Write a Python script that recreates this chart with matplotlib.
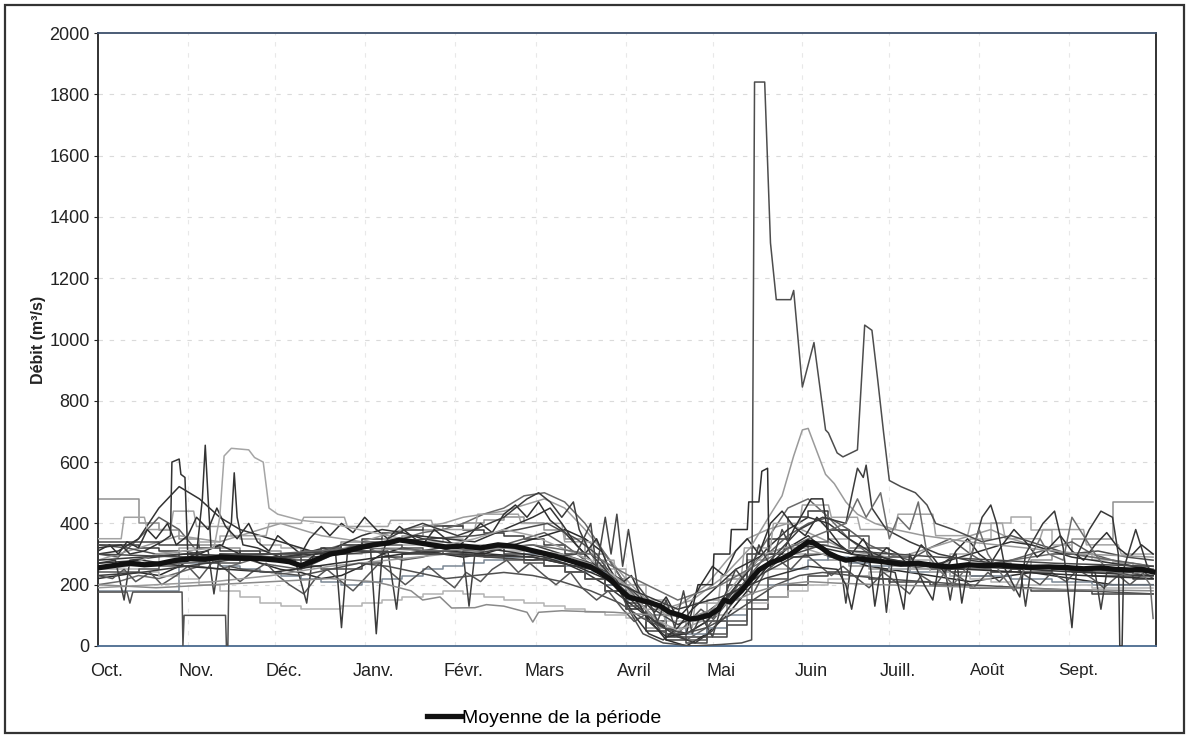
import matplotlib
matplotlib.use("Agg")
import matplotlib.pyplot as plt
from matplotlib.patches import Rectangle
import numpy as np

plt.rcParams['font.family'] = ['Liberation Sans', 'DejaVu Sans']

# ---------------- data ----------------
month_labels = ['Oct.', 'Nov.', 'Déc.', 'Janv.', 'Févr.', 'Mars', 'Avril', 'Mai', 'Juin', 'Juill.', 'Août', 'Sept.']
month_starts = [0, 31, 61, 92, 123, 151, 182, 212, 243, 273, 304, 335]
y_ticks = [0, 200, 400, 600, 800, 1000, 1200, 1400, 1600, 1800, 2000]

mean_days = [0,5,11,16,21,26,32,37,42,49,56,62,66,70,75,80,85,90,95,100,104,110,115,120,126,132,138,144,149,154,
             159,165,170,174,177,180,183,187,190,194,197,201,204,207,211,214,216,218,222,225,228,232,236,239,242,245,
             247,250,252,255,258,262,266,270,277,283,289,294,300,306,311,317,322,328,334,340,346,351,356,360,364]
mean_vals = [255,262,270,265,268,278,285,283,290,287,285,280,275,262,280,300,308,320,330,336,346,338,330,323,326,320,
             330,325,313,302,290,272,258,235,215,185,160,150,143,130,111,100,88,91,101,120,150,143,180,215,248,271,285,
             300,320,340,336,318,303,290,280,285,280,276,267,270,262,258,265,262,264,260,257,258,256,252,255,250,248,250,242]

# weekly readings (one value per week from 1 Oct)
w01 = [480,480,400,380,350,330,320,300,310,300,290,320,340,330,350,360,380,390,400,410,420,400,380,350,300,220,120,60,40,80,
       150,220,280,300,320,300,280,260,250,260,250,240,250,260,270,260,280,300,350,350,470,470,470]
w02 = [330,330,320,310,290,280,300,310,300,290,280,300,330,350,370,380,390,390,380,370,360,350,330,300,260,200,120,50,20,30,
       80,200,300,350,420,440,380,320,290,270,260,250,240,230,240,250,260,250,240,230,230,220,220]
w03 = [300,290,350,420,380,300,280,290,270,260,250,280,310,330,300,280,290,310,300,320,330,350,370,330,280,240,180,120,60,20,
       60,140,220,300,360,400,420,380,330,300,280,320,350,300,260,280,300,320,340,300,280,260,250]
w04 = [250,260,270,300,320,340,360,350,330,320,310,300,300,310,320,330,340,350,330,320,310,300,290,280,270,250,200,150,100,80,
       100,150,200,250,300,330,350,320,300,290,280,270,300,350,400,420,380,330,300,280,270,260,260]
w05 = [220,230,240,230,260,300,330,300,270,250,240,220,230,260,300,320,310,300,290,300,320,340,360,380,350,300,200,100,20,0,
       40,100,180,260,320,360,300,280,260,250,240,230,220,210,220,230,240,230,220,210,200,200,200]
w06 = [180,180,180,180,270,270,260,250,240,230,220,210,200,210,220,230,250,260,270,280,290,300,280,260,240,200,150,100,60,40,
       60,100,150,200,250,280,290,270,260,250,240,240,230,230,230,220,220,210,210,200,200,200,200]
w07 = [280,300,320,340,360,350,340,360,380,400,380,360,350,340,360,380,390,400,420,430,440,460,480,450,380,300,220,150,100,150,
       200,280,350,380,400,370,340,310,300,290,300,320,340,360,380,350,330,310,300,290,280,270,260]
w08 = [340,340,340,330,330,320,310,300,300,280,260,250,250,270,290,300,300,300,310,320,300,280,260,240,220,180,140,80,30,10,
       30,70,120,160,200,230,240,230,220,210,210,200,200,190,190,190,180,180,180,170,170,170,170]
w09 = [200,210,230,220,240,260,250,270,290,280,300,310,330,320,340,350,370,380,400,430,450,490,500,470,400,300,200,120,60,40,
       80,150,250,350,450,480,420,350,300,270,260,250,250,260,270,280,290,300,300,290,280,270,260]
w10 = [260,250,240,230,220,200,180,160,140,130,120,120,130,140,150,160,170,180,170,160,150,140,130,120,110,100,90,80,80,90,
       100,120,140,160,180,200,220,230,240,250,250,240,230,220,210,200,200,200,200,190,190,190,190]
w11 = [300,310,350,450,520,480,420,380,360,340,320,300,330,360,380,370,350,340,330,320,310,300,290,270,240,200,150,100,60,40,
       80,160,240,320,380,420,400,350,310,280,270,260,280,300,320,340,330,310,290,280,270,260,250]
w12 = [240,240,250,260,260,270,270,280,290,300,310,320,330,340,330,320,310,300,300,290,280,270,260,240,220,180,130,80,40,20,
       40,80,150,220,290,340,380,360,320,290,270,260,250,250,240,240,240,250,250,240,240,230,230]

# (day, value) readings for years with notable features
flood_year = [(0,330),(10,320),(20,300),(30,310),(40,290),(50,300),(60,280),(70,290),(80,310),(92,330),(100,340),(115,350),
              (130,360),(145,380),(155,400),(165,350),(172,300),(178,220),(183,120),(188,40),(195,10),(205,0),(215,5),
              (222,10),(225.5,20),(226.5,1840),(230,1840),(232,1315),(234,1130),(239,1130),(240,1160),(243,845),(247,990),
              (251,705),(252,695),(255,630),(257,617),(262,640),(264.5,1047),(267,1030),(269,868),(271,698),(273,540),
              (277,520),(282,500),(286,460),(289,400),(295,380),(305,340),(315,360),(325,330),(335,300),(345,310),
              (355,290),(364,280)]
peak_june = [(0,190),(20,200),(40,210),(60,230),(80,260),(100,280),(120,300),(140,320),(160,300),(175,250),(185,180),
             (195,120),(205,150),(215,220),(225,320),(232,430),(236,490),(240,620),(243,705),(245,710),(248,635),(251,560),
             (254,530),(258,470),(262,430),(268,400),(275,380),(285,360),(300,340),(320,320),(340,300),(364,290)]
may_steps = [(0,270),(15,280),(30,260),(45,250),(60,240),(75,260),(90,280),(105,300),(120,310),(135,300),(150,290),
             (165,260),(175,220),(182,170),(186,150),(190,80),(196,30),(203,40),(207,200),(212,200),(212.5,300),(218,300),
             (218.5,380),(224,380),(224.5,470),(228,470),(229,570),(231,580),(231.5,300),(236,300),(240,380),(246,480),
             (250,480),(252,350),(260,300),(270,280),(285,260),(300,250),(320,240),(340,230),(364,220)]
nov_peaks = [(0,320),(8,330),(11,300),(16,310),(22,340),(25,360),(25.5,600),(28,610),(28.6,560),(30,550),(31,290),
             (34,300),(36,480),(37,655),(38,480),(39,320),(43,330),(46,400),(47,565),(48,420),(50,330),(55,320),(60,300),
             (66,280),(70,260),(75,300),(80,310),(84,300),(90,330),(100,340),(110,360),(120,350),(130,340),(140,380),
             (150,420),(156,450),(160,400),(165,330),(172,260),(180,180),(185,100),(190,40),(195,20),(200,60),(205,120),
             (212,180),(220,250),(230,300),(240,330),(250,320),(260,300),(270,290),(280,270),(300,260),(320,250),
             (340,240),(364,230)]
dec_plateau = [(0,250),(10,260),(20,300),(30,310),(40,320),(42,420),(43.5,620),(46,645),(52,640),(54,615),(57,600),
               (59,450),(62,430),(70,410),(80,400),(90,380),(100,360),(110,340),(120,330),(130,350),(140,380),(150,360),
               (160,320),(170,280),(178,230),(185,160),(192,90),(200,50),(208,80),(215,150),(222,230),(230,300),
               (240,330),(250,300),(260,280),(275,270),(290,260),(305,270),(320,260),(340,250),(364,250)]
low_year = [(0,176),(10,176),(11,140),(12,176),(29,176),(29.3,0),(29.7,100),(44,100),(44.3,0),(44.8,0),(45.2,260),
            (50,250),(60,240),(70,230),(80,250),(90,270),(100,260),(110,240),(120,220),(130,230),(140,240),(150,230),
            (160,210),(170,180),(180,140),(188,90),(195,60),(202,40),(210,60),(218,100),(226,150),(234,200),(242,230),
            (250,240),(260,230),(270,220),(285,210),(300,200),(320,190),(340,180),(364,170)]
jan_dips = [(0,230),(15,240),(30,260),(45,280),(60,280),(70,300),(78,320),(82,300),(84,60),(86,300),(90,330),(94,320),
            (96,40),(98,300),(100,350),(106,380),(112,400),(118,380),(124,360),(130,380),(140,420),(148,480),(152,500),
            (156,470),(160,420),(164,470),(166,380),(170,300),(175,250),(180,190),(186,130),(192,80),(200,30),(206,10),
            (212,50),(218,130),(226,220),(234,300),(242,380),(250,420),(258,400),(262,580),(264,550),(265,590),(267,450),
            (272,380),(280,340),(290,300),(300,280),(320,260),(340,250),(364,240)]
feb_low = [(0,200),(20,190),(40,200),(60,210),(80,220),(95,210),(100,200),(108,180),(112,150),(118,160),(122,124),
           (130,125),(134,135),(140,130),(148,110),(150,78),(152,110),(160,115),(170,112),(178,110),(185,105),(195,100),
           (205,95),(215,130),(225,170),(235,200),(245,210),(255,205),(270,200),(290,195),(310,190),(330,185),(364,180)]
summer_a = [(0,280),(30,300),(60,290),(90,310),(120,300),(150,290),(170,250),(185,180),(200,120),(215,160),(230,220),
            (245,260),(255,250),(258,200),(260,120),(262,220),(266,300),(268,130),(270,250),(275,240),(278,120),(280,300),
            (285,200),(288,150),(290,260),(296,300),(298,140),(300,250),(305,420),(308,460),(310,400),(313,250),(318,160),
            (320,300),(326,400),(330,440),(333,320),(336,60),(338,300),(342,380),(346,440),(350,420),(352,300),(352.5,0),
            (353.3,0),(353.8,250),(358,380),(362,260),(364,240)]
summer_b = [(0,260),(30,270),(60,300),(90,320),(120,310),(150,330),(170,300),(185,220),(200,150),(215,200),(230,280),
            (245,350),(258,400),(262,480),(265,420),(270,500),(273,350),(276,420),(280,380),(283,470),(286,300),(290,250),
            (295,200),(300,260),(304,380),(307,300),(312,230),(316,180),(320,260),(325,350),(328,300),(333,280),(336,420),
            (340,360),(344,300),(348,250),(355,230),(360,240),(363,200),(364,90)]
april_spikes = [(0,300),(30,290),(60,300),(90,310),(120,300),(150,280),(165,300),(170,400),(172,250),(175,420),(177,300),
                (179,430),(181,260),(183,380),(186,200),(190,150),(193,80),(196,150),(199,60),(202,180),(205,40),(208,100),
                (212,30),(216,160),(220,250),(224,200),(228,330),(232,260),(236,380),(240,300),(250,330),(260,310),
                (275,300),(290,290),(310,280),(330,270),(364,260)]
jag_upper = [(0,310),(4,330),(7,300),(10,340),(14,320),(17,380),(20,350),(24,400),(27,330),(31,360),(34,420),(38,380),
             (41,450),(44,390),(48,350),(52,400),(55,340),(59,310),(62,360),(66,330),(70,300),(73,350),(77,390),(80,360),
             (84,400),(88,370),(92,420),(96,380),(100,350),(104,390),(108,360),(112,330),(116,380),(120,350),(124,320),
             (128,360),(132,400),(136,370),(140,430),(144,460),(148,420),(152,470),(156,410),(160,380),(164,340),(168,300),
             (172,350),(176,260),(180,200),(184,230),(188,150),(192,110),(196,160),(200,90),(204,130),(208,200),(212,260),
             (216,230),(220,310),(224,350),(228,300),(232,400),(236,440),(240,390),(244,360),(248,420),(252,380),(256,330),
             (260,300),(264,350),(268,280),(272,320),(276,300),(280,260),(284,330),(288,290),(292,240),(296,310),(300,350),
             (304,300),(308,270),(312,330),(316,380),(320,340),(324,290),(328,320),(332,360),(336,310),(340,280),(344,330),
             (348,370),(352,320),(356,290),(360,330),(364,300)]
jag_lower = [(0,230),(5,220),(9,250),(13,210),(18,240),(22,200),(27,230),(31,260),(35,220),(40,280),(44,250),(49,210),
             (53,240),(58,270),(62,230),(66,200),(71,170),(75,220),(79,250),(84,210),(88,180),(93,230),(97,270),(101,240),
             (106,200),(110,230),(114,260),(119,220),(123,190),(127,240),(132,210),(136,250),(141,280),(145,240),(149,270),
             (154,230),(158,200),(163,240),(167,190),(172,150),(176,180),(181,120),(185,80),(190,110),(194,50),(199,30),
             (203,70),(208,120),(212,90),(217,150),(221,200),(226,170),(230,240),(235,280),(239,250),(244,300),(248,270),
             (253,230),(257,260),(262,220),(266,190),(271,240),(275,210),(280,170),(284,230),(289,200),(293,250),(298,220),
             (302,190),(307,240),(311,210),(316,260),(320,230),(325,200),(329,240),(334,210),(338,250),(343,220),(347,190),
             (352,230),(356,200),(361,240),(364,220)]
block_light = [(0,350),(8,350),(9,420),(16,420),(17,380),(25,380),(26,440),(33,440),(34,390),(45,390),(46,360),(58,360),
               (59,400),(70,400),(71,420),(85,420),(86,390),(100,390),(101,410),(115,410),(116,380),(130,380),(131,430),
               (145,430),(146,400),(160,400),(161,340),(170,340),(171,280),(178,280),(179,200),(186,200),(187,120),
               (195,120),(196,60),(205,60),(206,140),(214,140),(215,230),(222,230),(223,320),(232,320),(233,400),(242,400),
               (243,460),(252,460),(253,420),(262,420),(263,380),(275,380),(276,430),(288,430),(289,360),(300,360),
               (301,400),(312,400),(313,350),(325,350),(326,380),(340,380),(341,330),(352,330),(353,300),(364,300)]
dip_year = [(0,270),(6,280),(9,150),(11,280),(20,290),(30,300),(38,310),(40,170),(42,300),(55,290),(68,280),(72,140),
            (74,290),(85,300),(100,310),(103,120),(105,300),(118,320),(126,300),(128,130),(130,300),(140,320),(150,330),
            (160,300),(170,270),(180,220),(190,130),(200,70),(210,110),(220,180),(230,240),(240,290),(250,300),(256,280),
            (258,140),(260,280),(270,290),(272,110),(274,280),(285,270),(292,260),(294,150),(296,260),(310,270),(318,260),
            (320,130),(322,260),(332,250),(344,240),(346,120),(348,240),(358,230),(364,230)]

# ---------------- figure ----------------
fig = plt.figure(figsize=(11.89, 7.38), dpi=100)
fig.patch.set_facecolor('white')
ax = fig.add_axes([98/1189, 92/738, 1058/1189, 613/738])

# grid
for yv in y_ticks[1:-1]:
    ax.axhline(yv, color='#dadada', lw=0.8, ls=(0, (4, 6)), zorder=0)
for d in month_starts[1:]:
    ax.axvline(d, color='#e8e8e8', lw=0.8, ls=(0, (4, 6)), zorder=0)

week_days = np.arange(len(w01)) * 7
week_series = [
    (w01, '#8f8f8f', 'steps-post'), (w02, '#3a3a3a', 'steps-post'), (w03, '#5e5e5e', 'default'),
    (w04, '#a9a9a9', 'steps-post'), (w05, '#2a2a2a', 'default'), (w06, '#7b8794', 'steps-post'),
    (w07, '#9c9c9c', 'default'), (w08, '#444444', 'steps-post'), (w09, '#6a6a6a', 'default'),
    (w10, '#b3b3b3', 'steps-post'), (w11, '#333333', 'default'), (w12, '#555555', 'steps-post'),
]
for vals, col, ds in week_series:
    ax.plot(week_days, vals, color=col, lw=1.1, drawstyle=ds, zorder=2)

pair_series = [
    (block_light, '#a3a3a3'), (jag_lower, '#555555'), (jag_upper, '#303030'), (dip_year, '#404040'),
    (flood_year, '#4d4d4d'), (peak_june, '#9a9a9a'), (may_steps, '#2e2e2e'), (nov_peaks, '#333333'),
    (dec_plateau, '#a5a5a5'), (low_year, '#505050'), (jan_dips, '#3c3c3c'), (feb_low, '#8a8a8a'),
    (summer_a, '#383838'), (summer_b, '#6e6e6e'), (april_spikes, '#474747'),
]
for pts, col in pair_series:
    dd = [p[0] for p in pts]
    vv = [p[1] for p in pts]
    ax.plot(dd, vv, color=col, lw=1.1, zorder=3)

mean_line, = ax.plot(mean_days, mean_vals, color='#111111', lw=3.8, zorder=5,
                     solid_joinstyle='round', label='Moyenne de la période')

ax.set_xlim(0, 365)
ax.set_ylim(0, 2000)
ax.set_yticks(y_ticks)
ax.set_yticklabels([str(v) for v in y_ticks], fontsize=13)
ax.set_xticks([d + 3 for d in month_starts])
ax.set_xticklabels(month_labels, fontsize=13)
for lab in ax.get_xticklabels()[10:]:
    lab.set_fontsize(12.3)
ax.tick_params(axis='x', length=0, pad=12, colors='#222222')
ax.tick_params(axis='y', length=3, pad=3, colors='#222222')

ax.set_ylabel('Débit (m³/s)', fontsize=11.5, fontweight='bold', color='#222222')
ax.yaxis.set_label_coords(-52/1058, 0.5)

for side in ['left', 'right']:
    ax.spines[side].set_color('#222222')
    ax.spines[side].set_linewidth(1.3)
ax.spines['top'].set_color('#3d4f6b')
ax.spines['bottom'].set_color('#4a6a8f')
ax.spines['top'].set_linewidth(1.3)
ax.spines['bottom'].set_linewidth(1.3)

fig.legend(handles=[mean_line], loc='center', bbox_to_anchor=(544/1189, 1 - 718/738),
           frameon=False, fontsize=14, handlelength=1.75, handletextpad=0.05)

# outer frame
fig.patches.append(Rectangle((5/1189, 5/738), 1179/1189, 728/738, transform=fig.transFigure,
                             fill=False, edgecolor='#333333', lw=1.6))

fig.savefig('out.png', dpi=100)
